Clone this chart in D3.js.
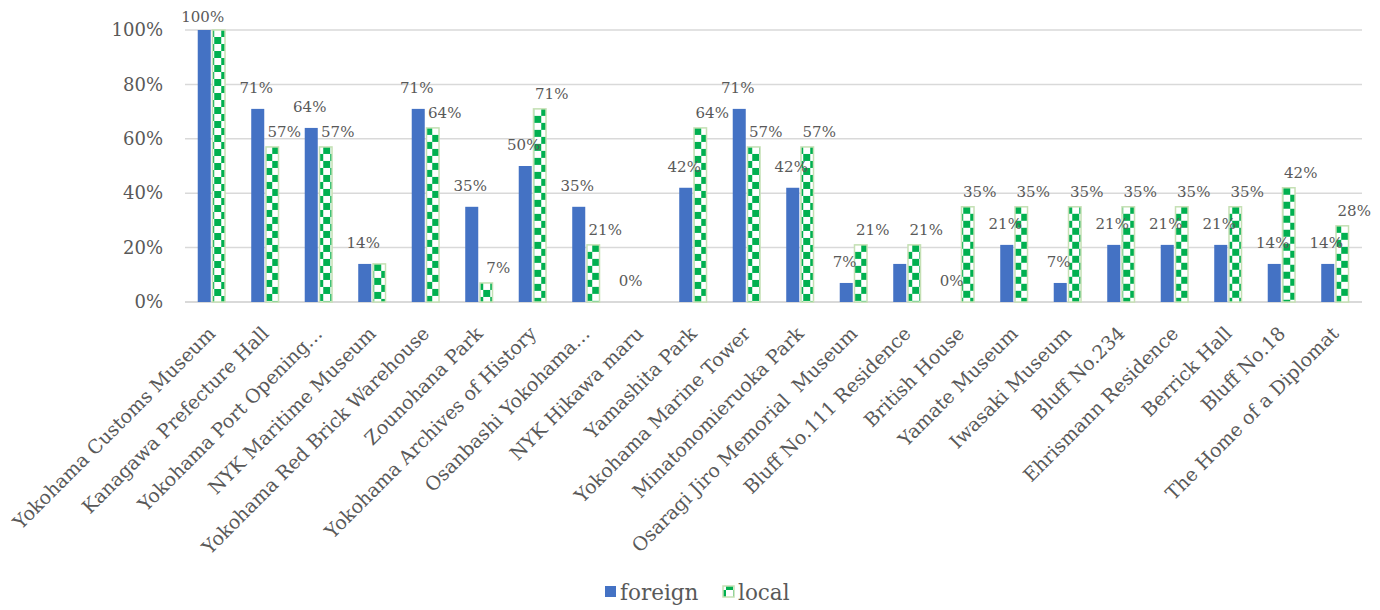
<!DOCTYPE html>
<html>
<head>
<meta charset="utf-8">
<script src="https://cdn.jsdelivr.net/npm/d3@7"></script>
<style>
	body{margin:0;background:#fff;}
	svg text{font-family:"DejaVu Serif","Liberation Serif",serif;fill:#595959;}
</style>
</head>
<body>
<svg width="1380" height="610"></svg>
<script>
(()=>{
	//data
	let categories = ["Yokohama Customs Museum","Kanagawa Prefecture Hall","Yokohama Port Opening…","NYK Maritime Museum","Yokohama Red Brick Warehouse","Zounohana Park","Yokohama Archives of History","Osanbashi Yokohama…","NYK Hikawa maru","Yamashita Park","Yokohama Marine Tower","Minatonomieruoka Park","Osaragi Jiro Memorial  Museum","Bluff No.111 Residence","British House","Yamate Museum","Iwasaki Museum","Bluff No.234","Ehrismann Residence","Berrick Hall","Bluff No.18","The Home of a Diplomat"];
	let foreign = [1.00,0.71,0.64,0.14,0.71,0.35,0.50,0.35,0,0.42,0.71,0.42,0.07,0.14,0,0.21,0.07,0.21,0.21,0.21,0.14,0.14];
	let local = [1.00,0.57,0.57,0.14,0.64,0.07,0.71,0.21,0,0.64,0.57,0.57,0.21,0.21,0.35,0.35,0.35,0.35,0.35,0.35,0.42,0.28];
	let seriesNames = ["foreign","local"];
	let yTicks = [0,0.2,0.4,0.6,0.8,1.0];

	let svg = d3.select("svg");
	let left = 185, right = 1362, top = 30, bottom = 302;
	let cell = 7;

	let x = d3.scaleBand()
		.domain(categories)
		.range([left,right])
		.paddingInner(0.476)
		.paddingOuter(0.238);
	let xs = d3.scaleBand()
		.domain(seriesNames)
		.range([0,x.bandwidth()]);
	let y = d3.scaleLinear()
		.domain([0,1])
		.range([bottom,top]);

	//checker pattern, one per bar so the squares line up with its edges
	let defs = svg.append("defs");
	function checker(id, x0, y0){
		let pat = defs.append("pattern")
			.attr("id",id)
			.attr("patternUnits","userSpaceOnUse")
			.attr("x",x0).attr("y",y0)
			.attr("width",cell*2).attr("height",cell*2);
		pat.append("rect").attr("width",cell*2).attr("height",cell*2).attr("fill","#fff");
		pat.append("rect").attr("x",cell).attr("y",0).attr("width",cell).attr("height",cell).attr("fill","#00b050");
		pat.append("rect").attr("x",0).attr("y",cell).attr("width",cell).attr("height",cell).attr("fill","#00b050");
		return "url(#"+id+")";
	}

	//gridlines
	svg.append("g")
		.selectAll("line")
		.data(yTicks)
		.join("line")
		.attr("x1",left).attr("x2",right)
		.attr("y1",d=>y(d)).attr("y2",d=>y(d))
		.attr("stroke","#d9d9d9")
		.attr("stroke-width",d=>d==0?2:1.5);

	//y axis
	let yAxis = svg.append("g")
		.attr("transform","translate("+(left-22)+",0)")
		.call(d3.axisLeft(y).tickValues(yTicks).tickFormat(d3.format(".0%")).tickSize(0).tickPadding(0));
	yAxis.select(".domain").remove();
	yAxis.selectAll("text")
		.style("font-size","18px")
		.style("font-family","DejaVu Serif")
		.attr("fill","#595959");

	//bars
	let rows = categories.map((c,i)=>({i:i, cat:c, foreign:foreign[i], local:local[i]}));
	let groups = svg.append("g")
		.selectAll("g")
		.data(rows)
		.join("g")
		.attr("transform",d=>"translate("+x(d.cat)+",0)");

	groups.append("rect")
		.attr("x",xs("foreign"))
		.attr("width",xs.bandwidth()-1)
		.attr("y",d=>y(d.foreign))
		.attr("height",d=>bottom-y(d.foreign))
		.attr("fill","#4472c4");

	groups.filter(d=>d.local>0).append("rect")
		.attr("x",xs("local")+0.75)
		.attr("width",xs.bandwidth()-1.5)
		.attr("y",d=>y(d.local))
		.attr("height",d=>bottom-y(d.local))
		.attr("fill",d=>checker("ck"+d.i, x(d.cat)+xs("local")+0.75, y(d.local)))
		.attr("stroke","#c5e0b4")
		.attr("stroke-width",1.5);

	//data labels, skip ones that collide
	let labels = [];
	rows.forEach(d=>{
		labels.push({v:d.foreign, x:x(d.cat)+xs("foreign")+xs.bandwidth()/2-2, y:Math.max(22,y(d.foreign)-16)});
		labels.push({v:d.local, x:x(d.cat)+xs("local")+xs.bandwidth()/2+12, y:Math.max(22,y(d.local)-10)});
	});
	let placed = [];
	let lg = svg.append("g");
	labels.forEach(l=>{
		let t = lg.append("text")
			.attr("x",l.x).attr("y",l.y)
			.attr("text-anchor","middle")
			.style("font-size","15px")
			.text(d3.format(".0%")(l.v));
		let b = t.node().getBBox();
		let hit = placed.some(p=> b.x < p.x+p.width+10 && b.x+b.width+10 > p.x && b.y < p.y+p.height && b.y+b.height > p.y);
		if(hit){t.remove();}else{placed.push(b);}
	});

	//category labels
	svg.append("g")
		.selectAll("text")
		.data(categories)
		.join("text")
		.attr("transform",d=>"translate("+(x(d)+x.bandwidth()/2-6)+",324) rotate(-45)")
		.attr("text-anchor","end")
		.attr("dy","0.8em")
		.style("font-size","19px")
		.style("white-space","pre")
		.text(d=>d);

	//legend
	let legend = svg.append("g").attr("transform","translate(605,592)");
	legend.append("rect").attr("x",0).attr("y",-6).attr("width",11).attr("height",11).attr("fill","#4472c4");
	legend.append("text").attr("x",15).attr("y",0).attr("dy","0.35em").style("font-size","21.5px").text("foreign");
	legend.append("rect").attr("x",118).attr("y",-6).attr("width",11).attr("height",11)
		.attr("fill",checker("ckLegend",723,586)).attr("stroke","#c5e0b4").attr("stroke-width",1.5);
	legend.append("text").attr("x",133).attr("y",0).attr("dy","0.35em").style("font-size","21.5px").text("local");
})();
</script>
</body>
</html>
